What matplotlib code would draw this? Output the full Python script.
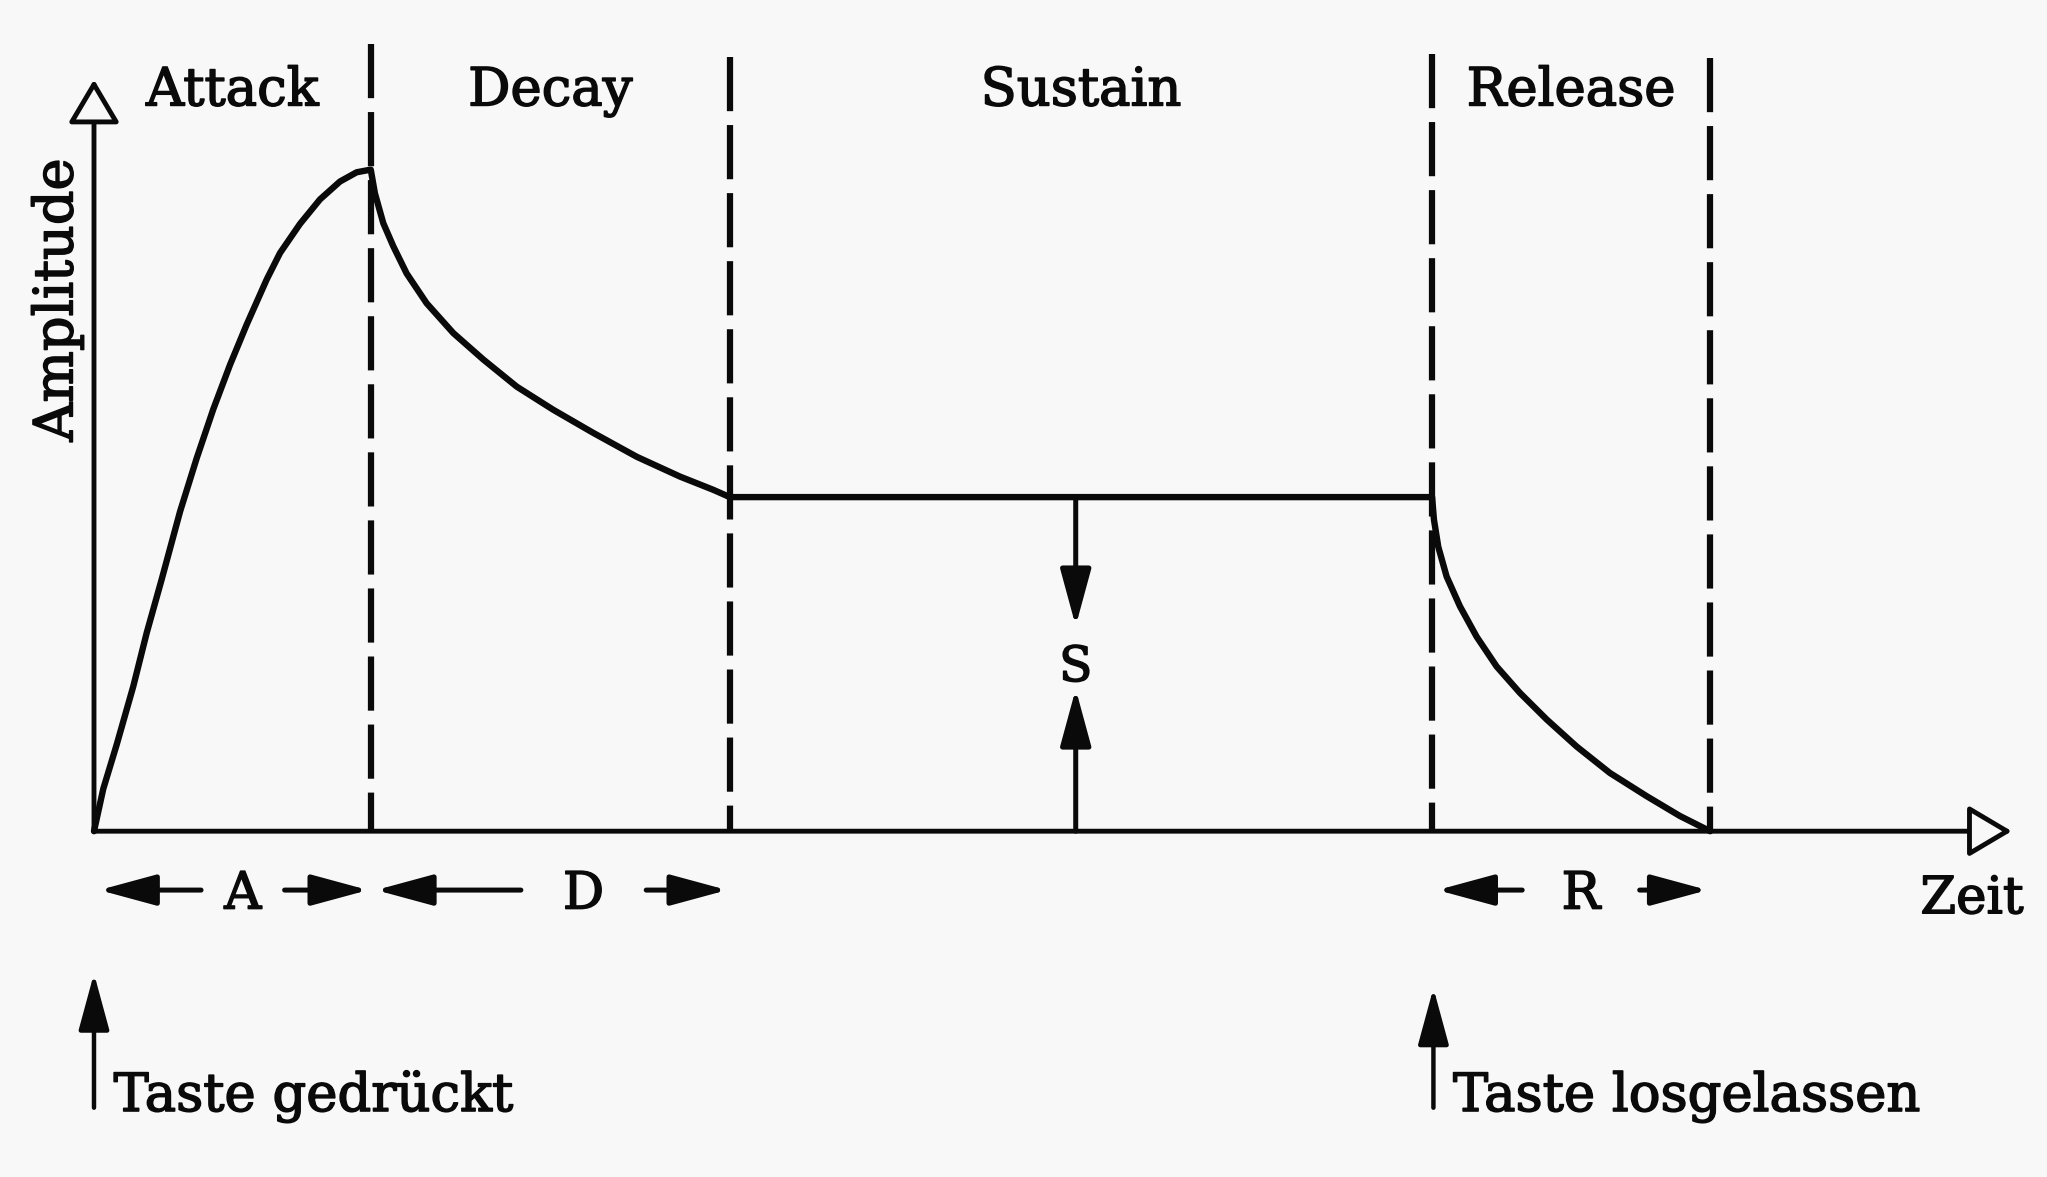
import matplotlib
matplotlib.use("Agg")
import matplotlib.pyplot as plt
import matplotlib.patheffects as pe

# ADSR-Huellkurve: Zeit in willkuerlichen Einheiten, Amplitude normiert (Spitze = 1)
phase_names = ["Attack", "Decay", "Sustain", "Release"]
phase_bounds = [0.0, 2.12, 4.87, 10.25, 12.38]
sustain_level = 0.505

attack_t = [0.0, 0.071, 0.174, 0.301, 0.404, 0.519, 0.659, 0.787, 0.914, 1.042,
            1.170, 1.323, 1.425, 1.578, 1.731, 1.884, 2.012, 2.12]
attack_a = [0.0, 0.064, 0.131, 0.219, 0.300, 0.381, 0.483, 0.564, 0.638, 0.705,
            0.766, 0.834, 0.874, 0.918, 0.955, 0.982, 0.996, 1.0]
decay_t = [2.12, 2.152, 2.216, 2.293, 2.395, 2.548, 2.752, 2.982, 3.238, 3.518,
           3.825, 4.157, 4.489, 4.744, 4.87]
decay_a = [1.0, 0.964, 0.919, 0.884, 0.843, 0.798, 0.753, 0.713, 0.672, 0.637,
           0.602, 0.566, 0.536, 0.516, 0.505]
release_t = [10.25, 10.256, 10.264, 10.297, 10.361, 10.463, 10.591, 10.744, 10.923,
             11.127, 11.357, 11.612, 11.893, 12.148, 12.38]
release_a = [0.505, 0.49, 0.471, 0.430, 0.385, 0.340, 0.294, 0.249, 0.209,
             0.169, 0.128, 0.088, 0.053, 0.023, 0.0]

span_labels = ["A", "D", "R"]
span_index = [0, 1, 3]
span_label_x = [1.14, 3.75, 11.39]
span_gap = [0.32, 0.48, 0.45]

event_labels = ["Taste gedrückt", "Taste losgelassen"]
event_t = [0.0, 10.26]
event_top = [-0.215, -0.237]

dash_tops = [1.19, 1.17, 1.175, 1.168]

bg = "#f8f8f8"
ink = "#0a0a0a"
font = "DejaVu Serif"
thick = [pe.withStroke(linewidth=1.1, foreground=ink)]

fig = plt.figure(figsize=(20.47, 11.77), dpi=100, facecolor=bg)
ax = fig.add_axes([0, 0, 1, 1])
ax.set_facecolor(bg)
ax.set_xlim(-0.72, 14.96)
ax.set_ylim(-0.5227, 1.2564)
ax.axis("off")


def arrow(x0, y0, x1, y1, lw=3.6, hl=3.5, hw=0.95, fc=ink):
    ax.annotate("", xy=(x1, y1), xytext=(x0, y0),
                arrowprops=dict(arrowstyle=f"-|>,head_length={hl},head_width={hw}",
                                mutation_scale=10, lw=lw, ec=ink, fc=fc,
                                shrinkA=0, shrinkB=0))


def label(x, y, s, size=38, **kw):
    ax.text(x, y, s, fontsize=size, family=font, color=ink,
            path_effects=thick, **kw)


# Achsen mit offenen Pfeilspitzen
arrow(0, 0, 0, 1.136, lw=3.5, hl=2.7, hw=1.6, fc=bg)
arrow(0, 0, 14.69, 0, lw=3.5, hl=2.7, hw=1.6, fc=bg)

# gestrichelte Phasengrenzen
lw_d = 4.5
for x, top in zip(phase_bounds[1:], dash_tops):
    ax.plot([x, x], [top, 0], color=ink, lw=lw_d, solid_capstyle="butt",
            linestyle=(0, (39.0 / lw_d, 10.0 / lw_d)))

# Huellkurve
env_t = attack_t + decay_t[1:] + release_t
env_a = attack_a + decay_a[1:] + release_a
ax.plot(env_t, env_a, color=ink, lw=4.6, solid_joinstyle="round",
        solid_capstyle="round")

# Phasennamen oben
for name, a, b in zip(phase_names, phase_bounds[:-1], phase_bounds[1:]):
    label((a + b) / 2, 1.097, name, ha="center", va="baseline")

label(-0.28, 0.803, "Amplitude", size=39, rotation=90, ha="center", va="center")
label(13.99, -0.124, "Zeit", size=37, ha="left", va="baseline")

# Dauer-Pfeile A, D, R
row = -0.089
for lab, i, lx, gap in zip(span_labels, span_index, span_label_x, span_gap):
    left, right = phase_bounds[i], phase_bounds[i + 1]
    arrow(lx - gap, row, left + 0.04, row)
    arrow(lx + gap, row, right - 0.02, row)
    label(lx, -0.117, lab, size=37, ha="center", va="baseline")

# Sustain-Pegel S
s_x = 7.52
arrow(s_x, sustain_level, s_x, 0.31)
arrow(s_x, 0, s_x, 0.215)
label(s_x, 0.227, "S", size=35, ha="center", va="baseline")

# Tastenereignisse
for lab, t, top in zip(event_labels, event_t, event_top):
    arrow(t, -0.418, t, top, lw=3.2)
    label(t + 0.15, -0.423, lab, ha="left", va="baseline")

fig.savefig("out.png", dpi=100, facecolor=bg)
